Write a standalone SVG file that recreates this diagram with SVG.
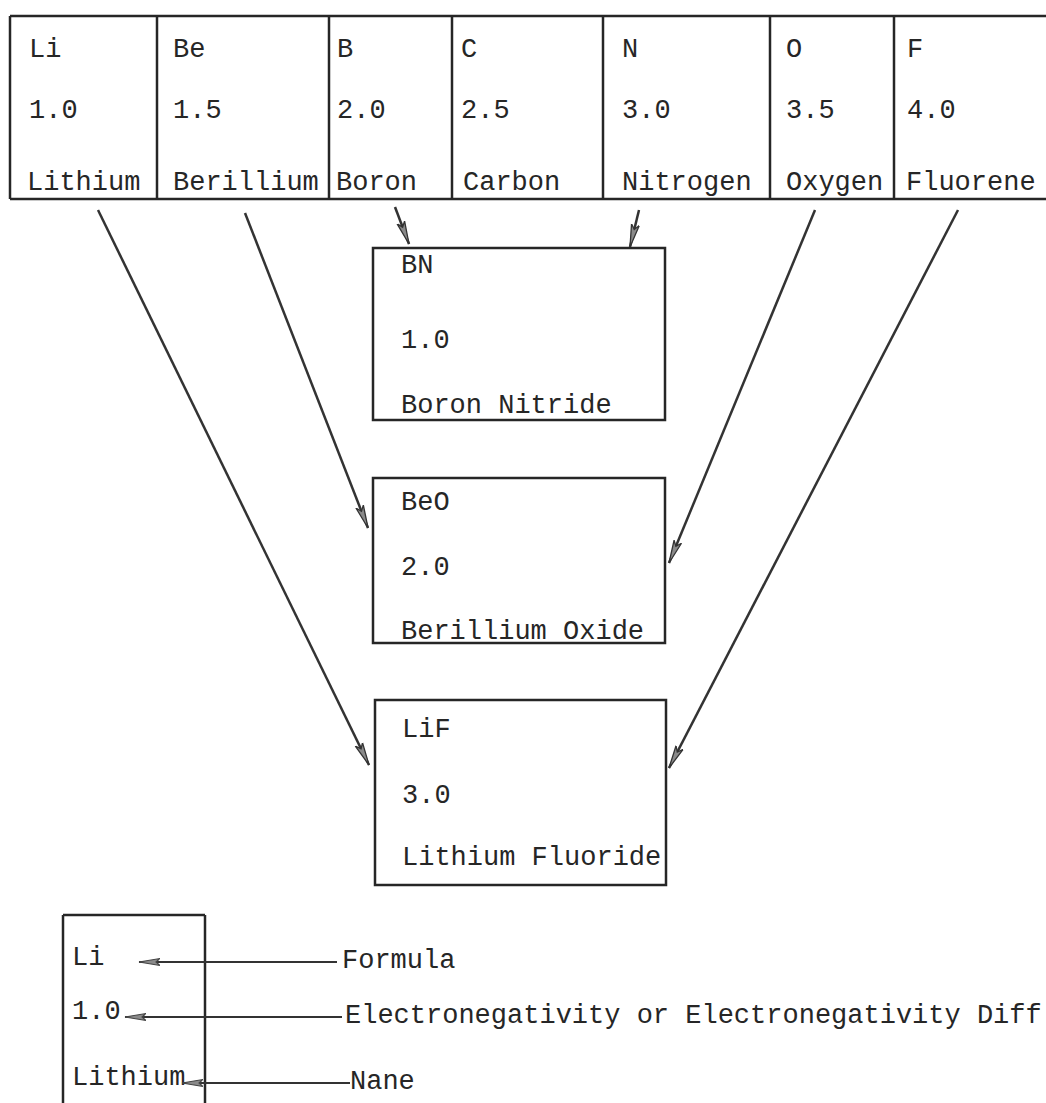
<svg xmlns="http://www.w3.org/2000/svg" width="1046" height="1103" viewBox="0 0 1046 1103">
<style>
text{font-family:"Liberation Mono","DejaVu Sans Mono",monospace;font-size:27px;fill:#262626}
.box{fill:none;stroke:#262626;stroke-width:2.5}
.ln{stroke:#262626;stroke-width:2.5;fill:none}
.conn{stroke:#333;stroke-width:2.5;fill:none;marker-end:url(#ah)}
.leg{stroke:#333;stroke-width:2;fill:none;marker-end:url(#ah2)}
</style>
<defs>
<marker id="ah" viewBox="0 0 24 12" refX="23" refY="6" markerWidth="24" markerHeight="12" markerUnits="userSpaceOnUse" orient="auto">
<path d="M0,2 L23,6 L0,10 L5,6 Z" fill="#8a8a8a" stroke="#333" stroke-width="1.3"/>
</marker>
<marker id="ah2" viewBox="0 0 22 10" refX="21" refY="5" markerWidth="22" markerHeight="10" markerUnits="userSpaceOnUse" orient="auto">
<path d="M0,1.5 L21,5 L0,8.5 L4,5 Z" fill="#8a8a8a" stroke="#444" stroke-width="1.1"/>
</marker>
</defs>
<rect width="1046" height="1103" fill="#fff"/>
<g id="table">
<line class="ln" x1="10" y1="16" x2="1046" y2="16"/>
<line class="ln" x1="10" y1="199" x2="1046" y2="199"/>
<line class="ln" x1="10" y1="16" x2="10" y2="199"/>
<line class="ln" x1="157" y1="16" x2="157" y2="199"/>
<line class="ln" x1="329" y1="16" x2="329" y2="199"/>
<line class="ln" x1="452" y1="16" x2="452" y2="199"/>
<line class="ln" x1="603" y1="16" x2="603" y2="199"/>
<line class="ln" x1="770" y1="16" x2="770" y2="199"/>
<line class="ln" x1="894" y1="16" x2="894" y2="199"/>
</g>
<g id="Li"><text x="29" y="57">Li</text><text x="29" y="118">1.0</text><text x="27" y="190">Lithium</text></g>
<g id="Be"><text x="173" y="57">Be</text><text x="173" y="118">1.5</text><text x="173" y="190">Berillium</text></g>
<g id="B"><text x="337" y="57">B</text><text x="337" y="118">2.0</text><text x="336" y="190">Boron</text></g>
<g id="C"><text x="461" y="57">C</text><text x="461" y="118">2.5</text><text x="463" y="190">Carbon</text></g>
<g id="N"><text x="622" y="57">N</text><text x="622" y="118">3.0</text><text x="622" y="190">Nitrogen</text></g>
<g id="O"><text x="786" y="57">O</text><text x="786" y="118">3.5</text><text x="786" y="190">Oxygen</text></g>
<g id="F"><text x="907" y="57">F</text><text x="907" y="118">4.0</text><text x="906" y="190">Fluorene</text></g>
<g id="BN"><rect class="box" x="373" y="248" width="292" height="172"/><text x="401" y="273">BN</text><text x="401" y="348">1.0</text><text x="401" y="413">Boron Nitride</text></g>
<g id="BeO"><rect class="box" x="373" y="478" width="292" height="165"/><text x="401" y="510">BeO</text><text x="401" y="575">2.0</text><text x="401" y="639">Berillium Oxide</text></g>
<g id="LiF"><rect class="box" x="375" y="700" width="291" height="185"/><text x="402" y="737">LiF</text><text x="402" y="803">3.0</text><text x="402" y="865">Lithium Fluoride</text></g>
<g id="connectors">
<line class="conn" x1="395" y1="207" x2="409" y2="244"/>
<line class="conn" x1="639" y1="210" x2="630" y2="247"/>
<line class="conn" x1="245" y1="213" x2="368" y2="528"/>
<line class="conn" x1="815" y1="210" x2="669" y2="563"/>
<line class="conn" x1="98" y1="210" x2="369" y2="765"/>
<line class="conn" x1="958" y1="210" x2="669" y2="768"/>
</g>
<g id="legend">
<line class="ln" x1="63" y1="915" x2="205" y2="915"/>
<line class="ln" x1="63" y1="915" x2="63" y2="1103"/>
<line class="ln" x1="205" y1="915" x2="205" y2="1103"/>
<text x="72" y="965">Li</text>
<text x="72" y="1019">1.0</text>
<text x="72" y="1085">Lithium</text>
<line class="leg" x1="337" y1="962" x2="139" y2="962"/>
<line class="leg" x1="342" y1="1017" x2="125" y2="1017"/>
<line class="leg" x1="350" y1="1083" x2="182" y2="1083"/>
<text x="342" y="968">Formula</text>
<text x="345" y="1023">Electronegativity or Electronegativity Diff</text>
<text x="350" y="1089">Nane</text>
</g>
</svg>
